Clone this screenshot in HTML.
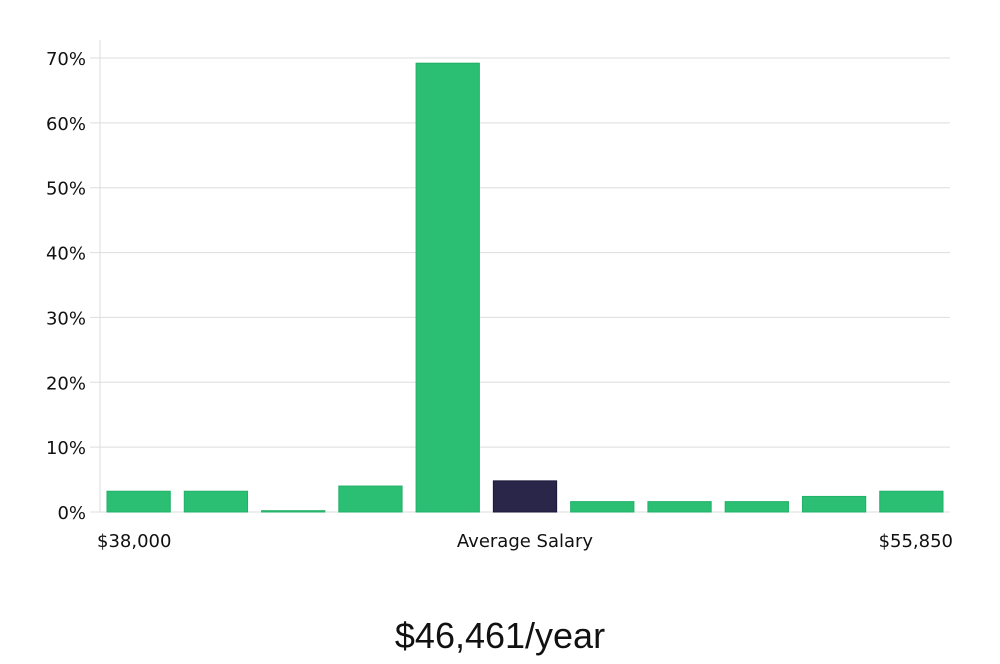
<!DOCTYPE html>
<html><head><meta charset="utf-8"><style>
body{margin:0;background:#fff;width:1000px;height:660px;overflow:hidden;font-family:"DejaVu Sans","Liberation Sans",sans-serif;}
</style></head><body>
<svg id="chart" width="1000" height="660" xmlns="http://www.w3.org/2000/svg">
<g id="grid"></g>
<g id="bars"></g>
<g id="yticks"></g>
<text x="97" y="547" font-size="18" fill="#111">$38,000</text>
<text x="525" y="547" font-size="18" fill="#111" text-anchor="middle">Average Salary</text>
<text x="953" y="547" font-size="18" fill="#111" text-anchor="end">$55,850</text>
<text x="500" y="648" font-size="36" fill="#111" text-anchor="middle" font-family="Liberation Sans, sans-serif">$46,461/year</text>
</svg>
<script>
const values=[3.2,3.2,0.2,4.0,69.2,4.8,1.6,1.6,1.6,2.4,3.2];
const highlightIndex=5;
const tickLabels=["0%","10%","20%","30%","40%","50%","60%","70%"];
const tickValues=[0,10,20,30,40,50,60,70];
const NS="http://www.w3.org/2000/svg";
const x0=100,x1=950,y0=512,yTop=58;
const y=v=>y0-(v/70)*(y0-yTop);
const slot=(x1-x0)/values.length;
const grid=document.getElementById('grid'),bars=document.getElementById('bars'),yt=document.getElementById('yticks');
const ax=document.createElementNS(NS,'line');


ax.setAttribute('x1',x0);ax.setAttribute('x2',x0);ax.setAttribute('y1',40);ax.setAttribute('y2',y0);ax.setAttribute('stroke','#ddd');
grid.appendChild(ax);
tickValues.forEach((t,i)=>{
 const l=document.createElementNS(NS,'line');
 
 
 l.setAttribute('x1',x0-10);l.setAttribute('x2',x1);l.setAttribute('y1',y(t));l.setAttribute('y2',y(t));l.setAttribute('stroke','#ddd');
 grid.appendChild(l);
 const tx=document.createElementNS(NS,'text');
 
 
 tx.setAttribute('x',86);tx.setAttribute('y',y(t)+7);tx.setAttribute('text-anchor','end');tx.setAttribute('font-size','18');tx.setAttribute('fill','#111');
 tx.textContent=tickLabels[i];yt.appendChild(tx);
});
values.forEach((v,i)=>{
 const r=document.createElementNS(NS,'rect');
 
 
 const bx=x0+i*slot+7;
 r.setAttribute('x',bx);r.setAttribute('width',slot-14);
 r.setAttribute('y',y(v));r.setAttribute('height',Math.max(1,y0-y(v)));
 const hi=i===highlightIndex;
 r.setAttribute('fill',hi?'#29264a':'#2bbf74');r.setAttribute('stroke',hi?'#1a1838':'#22b068');r.setAttribute('stroke-width','1');
 bars.appendChild(r);
});
</script>
</body></html>
